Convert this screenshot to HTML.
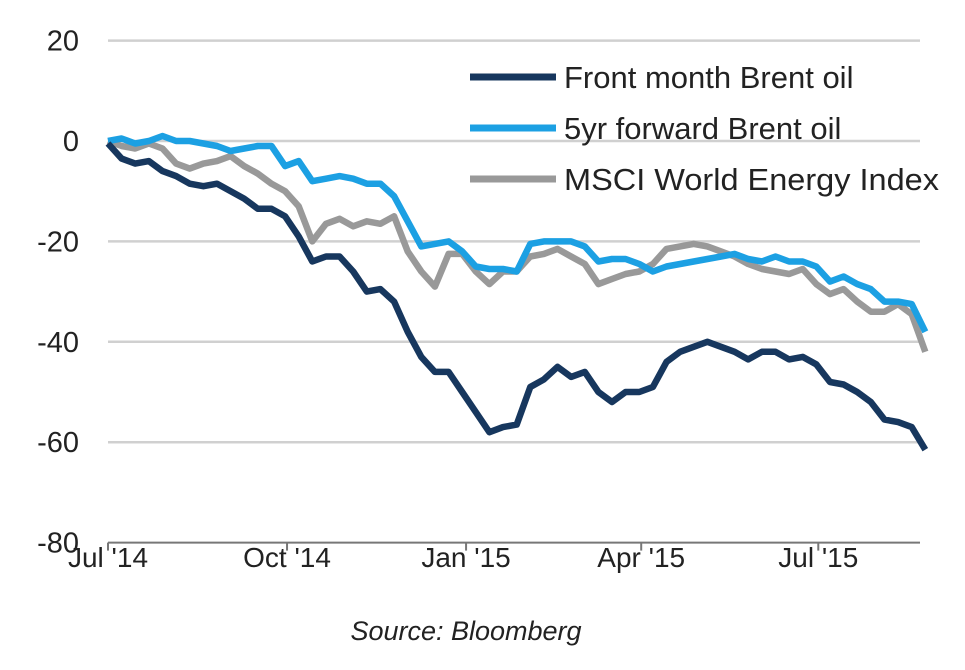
<!DOCTYPE html>
<html><head><meta charset="utf-8"><style>
body{margin:0;background:#fff;font-family:"Liberation Sans",sans-serif}
svg text{font-family:"Liberation Sans",sans-serif}
</style></head><body>
<svg id="c" width="965" height="665" xmlns="http://www.w3.org/2000/svg"></svg>
<script>
const weeks = 61;
const frontMonth = [-0.5,-3.5,-4.5,-4,-6,-7,-8.5,-9,-8.5,-10,-11.5,-13.5,-13.5,-15,-19,-24,-23,-23,-26,-30,-29.5,-32,-38,-43,-46,-46,-50,-54,-58,-57,-56.5,-49,-47.5,-45,-47,-46,-50,-52,-50,-50,-49,-44,-42,-41,-40,-41,-42,-43.5,-42,-42,-43.5,-43,-44.5,-48,-48.5,-50,-52,-55.5,-56,-57,-61.5];
const fwd5yr = [0,0.5,-0.5,0,1,0,0,-0.5,-1,-2,-1.5,-1,-1,-5,-4,-8,-7.5,-7,-7.5,-8.5,-8.5,-11,-16,-21,-20.5,-20,-22,-25,-25.5,-25.5,-26,-20.5,-20,-20,-20,-21,-24,-23.5,-23.5,-24.5,-26,-25,-24.5,-24,-23.5,-23,-22.5,-23.5,-24,-23,-24,-24,-25,-28,-27,-28.5,-29.5,-32,-32,-32.5,-38];
const msci = [0,-1,-1.5,-0.5,-1.5,-4.5,-5.5,-4.5,-4,-3,-5,-6.5,-8.5,-10,-13,-20,-16.5,-15.5,-17,-16,-16.5,-15,-22,-26,-29,-22.5,-22.5,-26,-28.5,-26,-26,-23,-22.5,-21.5,-23,-24.5,-28.5,-27.5,-26.5,-26,-24.5,-21.5,-21,-20.5,-21,-22,-23,-24.5,-25.5,-26,-26.5,-25.5,-28.5,-30.5,-29.5,-32,-34,-34,-32.5,-34.5,-42];
const yTicks = [20,0,-20,-40,-60,-80];
const xTickLabels = ["Jul '14","Oct '14","Jan '15","Apr '15","Jul '15"];
const xTickDays = [0,92,184,274,365];

const svg=document.getElementById('c');
const NS='http://www.w3.org/2000/svg';
const X0=108, PXD=1.946;
const xDay=d=>X0+d*PXD;
const xWeek=i=>xDay(i*7);
const y=v=>141-(v)*5.02;
function mk(t,a){const e=document.createElementNS(NS,t);for(const k in a)e.setAttribute(k,a[k]);svg.appendChild(e);return e;}

yTicks.forEach(v=>{
  if(v>-80){const g=mk('line',{x1:108,x2:920,y1:y(v),y2:y(v),stroke:'#d0d0d0','stroke-width':2.5});
  
  }
  const t=mk('text',{x:79,y:y(v)+10,'text-anchor':'end','font-size':29,fill:'#222'});t.textContent=v;
  
  
});
const ax=mk('line',{x1:108,x2:920,y1:y(-80),y2:y(-80),stroke:'#777','stroke-width':2});


xTickDays.forEach((d,i)=>{
  const tk=mk('line',{x1:xDay(d),x2:xDay(d),y1:y(-80),y2:y(-80)+8,stroke:'#777','stroke-width':2});
  
  
  const t=mk('text',{x:xDay(d),y:567,'text-anchor':'middle','font-size':28,fill:'#222'});t.textContent=xTickLabels[i];
  
  
});
function series(arr,color,name){
  const pts=arr.map((v,i)=>xWeek(i).toFixed(1)+','+y(v).toFixed(1)).join(' ');
  const p=mk('polyline',{points:pts,fill:'none',stroke:color,'stroke-width':6.5,'stroke-linejoin':'round'});
  
  
}
series(msci,'#999999','msci-energy-line');
series(fwd5yr,'#1ca0e3','5yr-forward-line');
series(frontMonth,'#17375e','front-month-line');
const leg=[["Front month Brent oil",'#17375e'],["5yr forward Brent oil",'#1ca0e3'],["MSCI World Energy Index",'#999999']];
leg.forEach((l,i)=>{
  const yy=77+i*51;
  const s=mk('line',{x1:470,x2:556,y1:yy,y2:yy,stroke:l[1],'stroke-width':7});
  
  
  const t=mk('text',{x:564,y:yy+11,'font-size':31,fill:'#222',textLength:l[0]===leg[2][0]?375:null});t.textContent=l[0];
  if(i===2){t.setAttribute('textLength','375');t.setAttribute('lengthAdjust','spacingAndGlyphs');}
  else t.removeAttribute('textLength');
  
  
});
const src=mk('text',{x:466,y:640,'text-anchor':'middle','font-size':27,'font-style':'italic',fill:'#222'});src.textContent='Source: Bloomberg';


</script>
</body></html>
